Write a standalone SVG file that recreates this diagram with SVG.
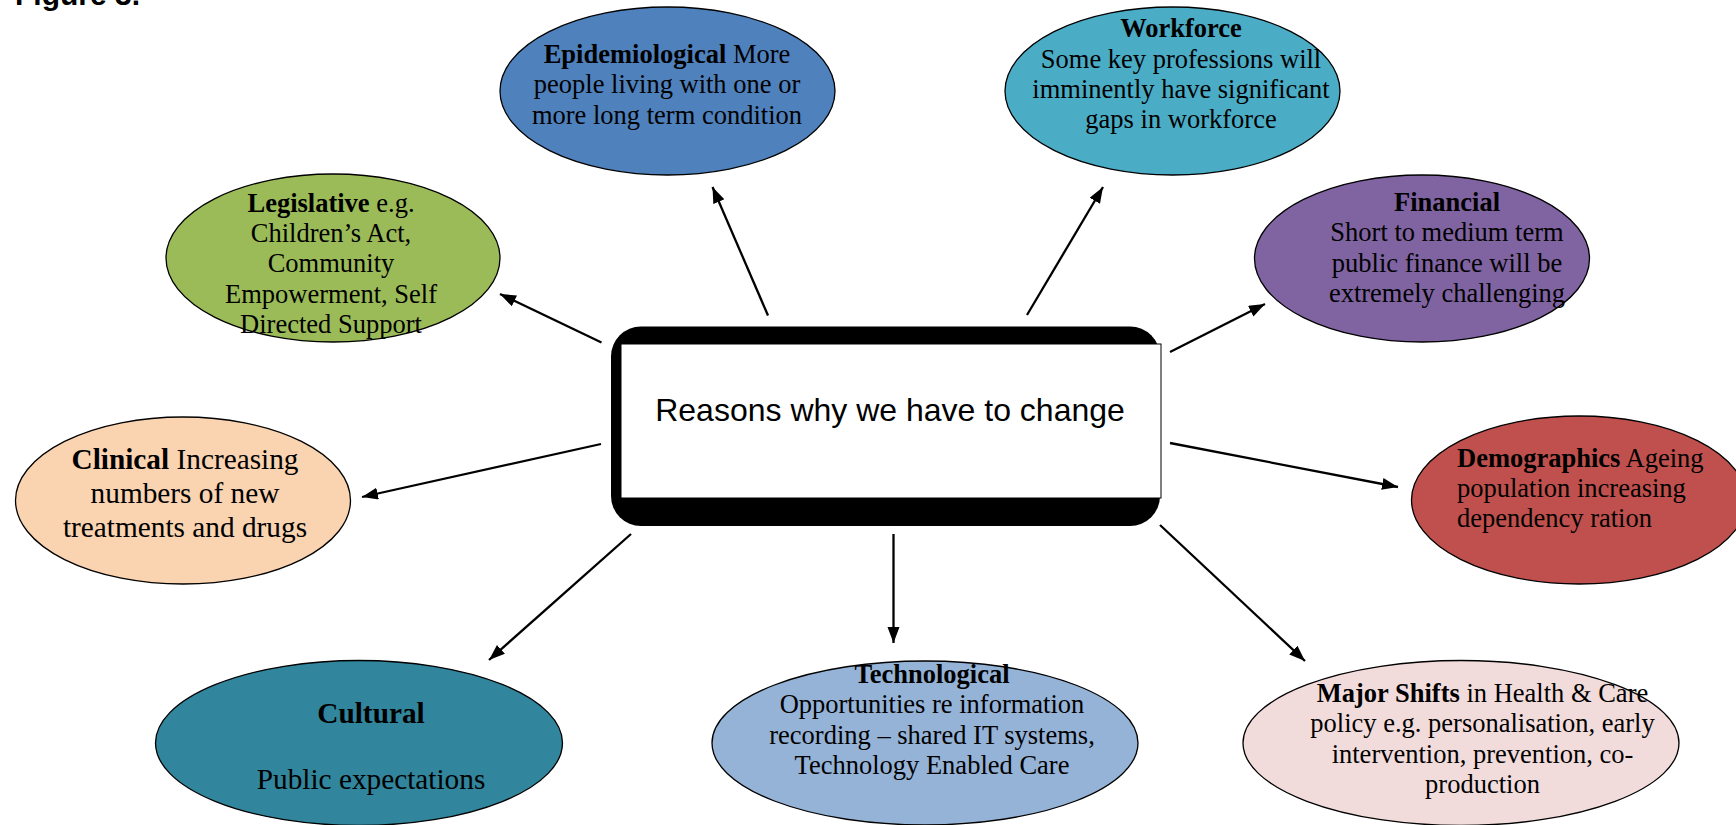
<svg xmlns="http://www.w3.org/2000/svg" width="1736" height="825" viewBox="0 0 1736 825">
<style>
.node ellipse{stroke:#000;stroke-width:1.3}
.t{font-family:"Liberation Serif","Times New Roman",serif;font-size:26.5px;fill:#000}
.tl{font-family:"Liberation Serif","Times New Roman",serif;font-size:29.3px;fill:#000}
.c{text-anchor:middle}
.b{font-weight:bold}
.conn line{stroke:#000;stroke-width:2.3;fill:none}
</style>
<defs>
<marker id="ah" markerUnits="userSpaceOnUse" markerWidth="18" markerHeight="14" refX="16" refY="6" orient="auto">
<path d="M0,0 L16,6 L0,12 z" fill="#000"/>
</marker>
</defs>
<rect width="1736" height="825" fill="#fff"/>
<text x="15" y="5" font-family="'Liberation Sans',Arial,sans-serif" font-weight="bold" font-size="30" fill="#000">Figure 3.</text>

<g class="conn">
<line x1="601.5" y1="342.5" x2="500" y2="294" marker-end="url(#ah)"/>
<line x1="768" y1="315.5" x2="712.5" y2="187" marker-end="url(#ah)"/>
<line x1="1027" y1="315" x2="1103" y2="187" marker-end="url(#ah)"/>
<line x1="1170" y1="352" x2="1265" y2="304" marker-end="url(#ah)"/>
<line x1="601" y1="444" x2="362" y2="497" marker-end="url(#ah)"/>
<line x1="1170" y1="443" x2="1398" y2="487" marker-end="url(#ah)"/>
<line x1="631" y1="534" x2="489" y2="660" marker-end="url(#ah)"/>
<line x1="893.5" y1="534" x2="893.5" y2="643" marker-end="url(#ah)"/>
<line x1="1160" y1="525" x2="1305" y2="661" marker-end="url(#ah)"/>
</g>

<g id="center">
<rect x="611" y="326.5" width="549" height="199.5" rx="30" ry="30" fill="#000"/>
<rect x="621" y="344" width="540" height="154" fill="#fff" stroke="#000" stroke-width="1"/>
<text x="890" y="420.7" text-anchor="middle" font-family="'Liberation Sans',Arial,sans-serif" font-size="32" fill="#000">Reasons why we have to change</text>
</g>

<g id="epidemiological" class="node">
<ellipse cx="667.5" cy="91" rx="167.5" ry="84" fill="#4F81BD"/>
<text class="t c" x="667" y="62.7"><tspan class="b">Epidemiological</tspan> More</text>
<text class="t c" x="667" y="93.2">people living with one or</text>
<text class="t c" x="667" y="123.5">more long term condition</text>
</g>

<g id="legislative" class="node">
<ellipse cx="333" cy="258" rx="167" ry="84" fill="#9BBB59"/>
<text class="t c" x="331" y="211.7"><tspan class="b">Legislative</tspan> e.g.</text>
<text class="t c" x="331" y="242">Children’s Act,</text>
<text class="t c" x="331" y="272.3">Community</text>
<text class="t c" x="331" y="302.6">Empowerment, Self</text>
<text class="t c" x="331" y="332.9">Directed Support</text>
</g>

<g id="workforce" class="node">
<ellipse cx="1172.5" cy="91" rx="167.5" ry="84" fill="#4BACC6"/>
<text class="t c b" x="1181" y="37.3">Workforce</text>
<text class="t c" x="1181" y="67.6">Some key professions will</text>
<text class="t c" x="1181" y="97.9">imminently have significant</text>
<text class="t c" x="1181" y="128.2">gaps in workforce</text>
</g>

<g id="financial" class="node">
<ellipse cx="1422" cy="258.5" rx="167.5" ry="83.5" fill="#8064A2"/>
<text class="t c b" x="1447" y="211">Financial</text>
<text class="t c" x="1447" y="241.3">Short to medium term</text>
<text class="t c" x="1447" y="271.6">public finance will be</text>
<text class="t c" x="1447" y="301.9">extremely challenging</text>
</g>

<g id="clinical" class="node">
<ellipse cx="183" cy="500.5" rx="167.5" ry="83.5" fill="#FAD3B1"/>
<text class="tl c" x="185" y="469.3"><tspan class="b">Clinical</tspan> Increasing</text>
<text class="tl c" x="185" y="503">numbers of new</text>
<text class="tl c" x="185" y="536.8">treatments and drugs</text>
</g>

<g id="demographics" class="node">
<ellipse cx="1579" cy="500" rx="167.5" ry="84" fill="#C0504D"/>
<text class="t" x="1457" y="466.7"><tspan class="b">Demographics</tspan> Ageing</text>
<text class="t" x="1457" y="497">population increasing</text>
<text class="t" x="1457" y="527.3">dependency ration</text>
</g>

<g id="cultural" class="node">
<ellipse cx="359" cy="743" rx="203.5" ry="82.5" fill="#31859C"/>
<text class="tl c b" x="371" y="722.7">Cultural</text>
<text class="tl c" x="371" y="789.3">Public expectations</text>
</g>

<g id="technological" class="node">
<ellipse cx="925" cy="743" rx="213" ry="82" fill="#95B3D7"/>
<text class="t c b" x="932" y="683.3">Technological</text>
<text class="t c" x="932" y="713.4">Opportunities re information</text>
<text class="t c" x="932" y="743.5">recording – shared IT systems,</text>
<text class="t c" x="932" y="773.6">Technology Enabled Care</text>
</g>

<g id="major-shifts" class="node">
<ellipse cx="1461" cy="743" rx="218" ry="82.5" fill="#F2DCDB"/>
<text class="t c" x="1482.5" y="702.3"><tspan class="b">Major Shifts</tspan> in Health &amp; Care</text>
<text class="t c" x="1482.5" y="732.4">policy e.g. personalisation, early</text>
<text class="t c" x="1482.5" y="762.6">intervention, prevention, co-</text>
<text class="t c" x="1482.5" y="792.7">production</text>
</g>
</svg>
